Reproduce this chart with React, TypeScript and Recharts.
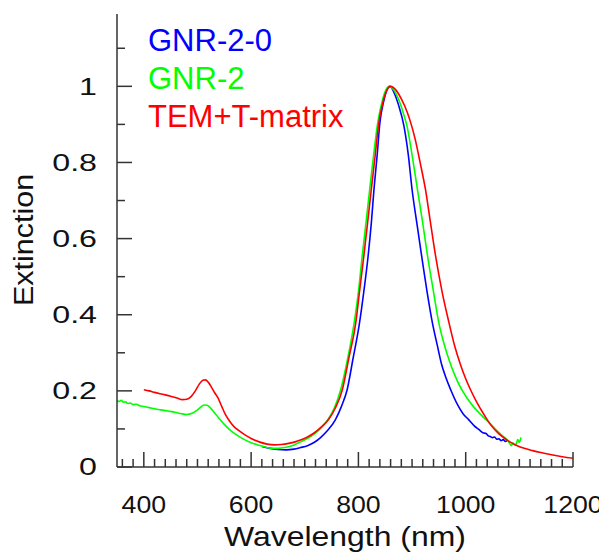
import React from "react";
import { LineChart, Line, XAxis, YAxis, Legend } from "recharts";

// ---- data ----
const wlBlue = [620, 636, 650, 665, 680, 692, 705, 718, 730, 742, 757, 768, 779, 790, 802, 810, 818, 824, 829, 835, 840, 847, 853, 859, 866, 875, 885, 893, 900, 909, 918, 928, 938, 947, 955, 963, 972, 985, 995, 1005, 1016, 1025, 1032, 1038, 1042, 1046, 1050, 1054, 1058, 1062, 1066, 1070, 1074, 1077];
const extBlue = [0.054, 0.049, 0.046, 0.045, 0.047, 0.051, 0.056, 0.065, 0.078, 0.095, 0.124, 0.158, 0.203, 0.285, 0.378, 0.46, 0.553, 0.64, 0.729, 0.82, 0.904, 0.96, 0.99, 1.0, 0.985, 0.95, 0.895, 0.82, 0.729, 0.64, 0.553, 0.46, 0.378, 0.32, 0.27, 0.235, 0.203, 0.163, 0.14, 0.125, 0.108, 0.098, 0.09, 0.088, 0.082, 0.08, 0.077, 0.079, 0.073, 0.074, 0.069, 0.072, 0.067, 0.07];

const wlGreen = [350, 354, 358, 362, 366, 370, 375, 380, 386, 392, 400, 410, 420, 432, 445, 458, 470, 480, 490, 498, 505, 512, 518, 525, 532, 540, 550, 560, 570, 585, 600, 615, 630, 640, 650, 665, 680, 692, 705, 718, 730, 742, 755, 767, 780, 792, 800, 807, 814, 821, 828, 836, 845, 851, 857, 866, 876, 884, 891, 900, 910, 920, 929, 940, 950, 960, 970, 980, 991, 1003, 1016, 1030, 1047, 1060, 1072, 1078, 1082, 1085, 1088, 1091, 1094, 1097, 1100, 1103];
const extGreen = [0.176, 0.172, 0.175, 0.17, 0.171, 0.167, 0.168, 0.164, 0.165, 0.161, 0.159, 0.156, 0.153, 0.15, 0.147, 0.144, 0.14, 0.138, 0.141, 0.148, 0.156, 0.163, 0.162, 0.154, 0.142, 0.128, 0.112, 0.098, 0.087, 0.074, 0.064, 0.057, 0.051, 0.049, 0.049, 0.052, 0.058, 0.066, 0.075, 0.087, 0.102, 0.122, 0.155, 0.203, 0.285, 0.378, 0.46, 0.553, 0.64, 0.729, 0.815, 0.904, 0.965, 0.99, 1.0, 0.99, 0.962, 0.928, 0.893, 0.82, 0.729, 0.64, 0.553, 0.46, 0.378, 0.322, 0.277, 0.24, 0.207, 0.18, 0.156, 0.135, 0.112, 0.093, 0.078, 0.07, 0.062, 0.056, 0.063, 0.058, 0.06, 0.072, 0.065, 0.078];

const wlRed = [400, 410, 420, 435, 450, 462, 472, 480, 488, 496, 503, 510, 515, 520, 526, 532, 538, 545, 552, 560, 568, 578, 590, 600, 615, 630, 643, 656, 670, 682, 692, 705, 718, 730, 745, 757, 770, 782, 795, 802, 810, 817, 824, 831, 838, 846, 853, 860, 870, 880, 891, 898, 906, 915, 925, 934, 944, 956, 969, 980, 990, 1000, 1009, 1020, 1034, 1047, 1062, 1078, 1094, 1109, 1125, 1140, 1160, 1180, 1200];
const extRed = [0.203, 0.2, 0.196, 0.191, 0.186, 0.181, 0.177, 0.178, 0.185, 0.2, 0.217, 0.228, 0.229, 0.223, 0.21, 0.195, 0.182, 0.16, 0.138, 0.12, 0.106, 0.095, 0.083, 0.075, 0.066, 0.06, 0.058, 0.059, 0.062, 0.066, 0.071, 0.079, 0.09, 0.104, 0.126, 0.155, 0.203, 0.285, 0.378, 0.46, 0.553, 0.64, 0.729, 0.815, 0.904, 0.96, 0.99, 1.0, 0.99, 0.967, 0.932, 0.902, 0.86, 0.8, 0.729, 0.645, 0.553, 0.46, 0.378, 0.315, 0.27, 0.232, 0.203, 0.172, 0.138, 0.11, 0.087, 0.07, 0.057, 0.049, 0.043, 0.038, 0.032, 0.027, 0.023];

const xTicks = [360, 380, 400, 420, 440, 460, 480, 500, 520, 540, 560, 580, 600, 620, 640, 660, 680, 700, 720, 740, 760, 780, 800, 820, 840, 860, 880, 900, 920, 940, 960, 980, 1000, 1020, 1040, 1060, 1080, 1100, 1120, 1140, 1160, 1180, 1200];
const yTicks = [0, 0.1, 0.2, 0.3, 0.4, 0.5, 0.6, 0.7, 0.8, 0.9, 1.0, 1.1];

const seriesNames = ["GNR-2-0", "GNR-2", "TEM+T-matrix"];
const seriesColors = ["#0000ff", "#00ff00", "#ff0000"];

const toPoints = (xs: number[], ys: number[]) => xs.map((x, i) => ({ x, y: ys[i] }));
const blueData = toPoints(wlBlue, extBlue);
const greenData = toPoints(wlGreen, extGreen);
const redData = toPoints(wlRed, extRed);

const AXIS = "#333333";
const FONT = "'Liberation Sans', Arial, sans-serif";

const XTick = (props: any) => {
  const { x, y, payload } = props;
  const v = payload.value as number;
  const major = v % 200 === 0;
  return (
    <g>
      <line x1={x} x2={x} y1={y} y2={y - (major ? 15 : 8)} stroke={AXIS} strokeWidth={1.5} />
      {major && (
        <text
          transform={`translate(${x},${y + 45.7}) scale(1.16,1)`}
          textAnchor="middle"
          fontFamily={FONT}
          fontSize={23}
          fill="#111"
        >
          {v}
        </text>
      )}
    </g>
  );
};

const YTick = (props: any) => {
  const { x, y, payload } = props;
  const v = payload.value as number;
  const tenth = Math.round(v * 10);
  const major = tenth % 2 === 0;
  const label = tenth === 0 ? "0" : tenth === 10 ? "1" : v.toFixed(1);
  return (
    <g>
      <line x1={x} x2={x + (major ? 15 : 8)} y1={y} y2={y} stroke={AXIS} strokeWidth={1.5} />
      {major && (
        <text
          transform={`translate(${x - 20},${y + 8.2}) scale(1.4,1)`}
          textAnchor="end"
          fontFamily={FONT}
          fontSize={23}
          fill="#111"
        >
          {label}
        </text>
      )}
    </g>
  );
};

const XTitle = (props: any) => {
  const vb = props.viewBox || {};
  const cx = (vb.x ?? 0) + (vb.width ?? 0) / 2;
  const y = (vb.y ?? 0) + 79;
  return (
    <text
      transform={`translate(${cx},${y}) scale(1.14,1)`}
      textAnchor="middle"
      fontFamily={FONT}
      fontSize={28}
      fill="#111"
    >
      Wavelength (nm)
    </text>
  );
};

const YTitle = () => (
  <text
    transform={`translate(16,232) rotate(-90) scale(1.13,1)`}
    textAnchor="middle"
    dominantBaseline="central"
    fontFamily={FONT}
    fontSize={27}
    fill="#111"
  >
    Extinction
  </text>
);

const LegendContent = () => (
  <div style={{ fontFamily: FONT, fontSize: 31, lineHeight: "38px" }}>
    {seriesNames.map((n, i) => (
      <div key={n} style={{ color: seriesColors[i], whiteSpace: "nowrap" }}>
        {n}
      </div>
    ))}
  </div>
);

export default function App() {
  return (
    <div style={{ width: 599, height: 545 }}>
      <LineChart width={599} height={545} margin={{ top: 6, right: 34, bottom: 0, left: 0 }}>
        <XAxis
          xAxisId="b"
          type="number"
          dataKey="x"
          domain={[350, 1200]}
          ticks={xTicks}
          interval={0}
          allowDataOverflow
          height={86}
          tickSize={0}
          tickMargin={0}
          tickLine={false}
          axisLine={{ stroke: AXIS, strokeWidth: 1.5 }}
          tick={<XTick />}
          label={<XTitle />}
        />
        <XAxis
          xAxisId="t"
          orientation="top"
          type="number"
          dataKey="x"
          domain={[350, 1200]}
          height={0}
          tick={false}
          tickLine={false}
          axisLine={{ stroke: AXIS, strokeWidth: 1.5 }}
        />
        <YAxis
          yAxisId="l"
          type="number"
          domain={[0, 1.19]}
          ticks={yTicks}
          interval={0}
          allowDataOverflow
          width={109}
          tickSize={0}
          tickMargin={0}
          tickLine={false}
          axisLine={{ stroke: AXIS, strokeWidth: 1.5 }}
          tick={<YTick />}
          label={<YTitle />}
        />
        <YAxis
          yAxisId="r"
          orientation="right"
          type="number"
          domain={[0, 1.19]}
          width={0}
          tick={false}
          tickLine={false}
          axisLine={{ stroke: AXIS, strokeWidth: 1.5 }}
        />
        <Legend
          layout="vertical"
          align="center"
          verticalAlign="middle"
          content={<LegendContent />}
          wrapperStyle={{ position: "absolute", left: 140, top: 14, width: "auto", height: "auto" }}
        />
        <Line xAxisId="b" yAxisId="l" data={blueData} dataKey="y" name={seriesNames[0]} type="monotone" stroke={seriesColors[0]} strokeWidth={1.6} dot={false} isAnimationActive={false} />
        <Line xAxisId="b" yAxisId="l" data={greenData} dataKey="y" name={seriesNames[1]} type="monotone" stroke={seriesColors[1]} strokeWidth={1.6} dot={false} isAnimationActive={false} />
        <Line xAxisId="b" yAxisId="l" data={redData} dataKey="y" name={seriesNames[2]} type="monotone" stroke={seriesColors[2]} strokeWidth={1.6} dot={false} isAnimationActive={false} />
      </LineChart>
    </div>
  );
}
